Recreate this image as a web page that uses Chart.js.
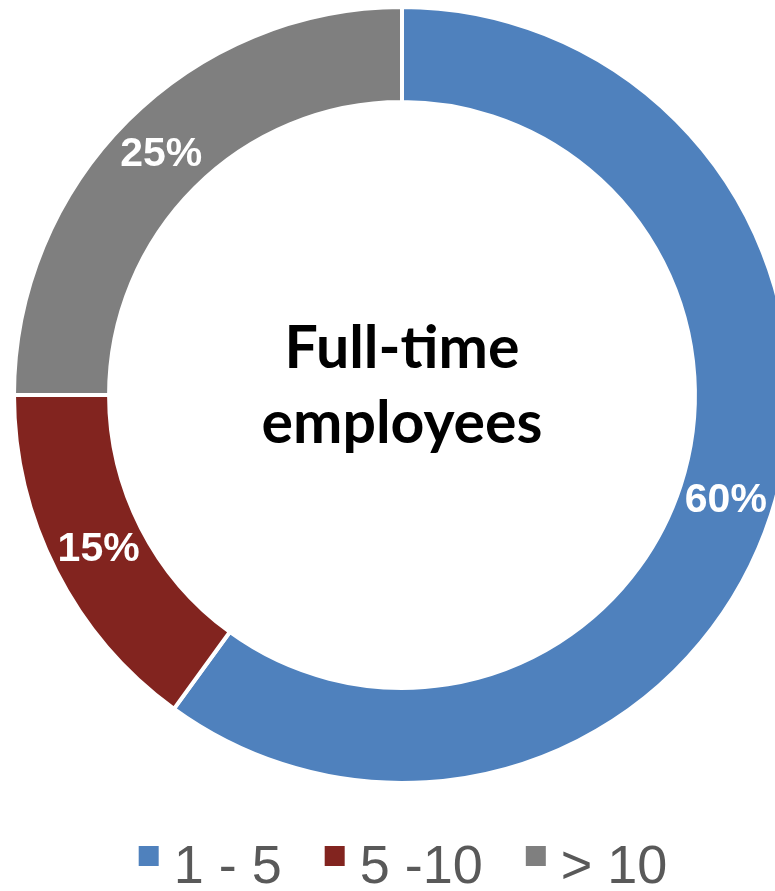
<!DOCTYPE html>
<html>
<head>
<meta charset="utf-8">
<script src="https://cdn.jsdelivr.net/npm/chart.js@4/dist/chart.umd.min.js"></script>
<style>
  html, body { margin: 0; padding: 0; background: #fff; overflow: hidden; }
  #wrap { position: absolute; left: 0; top: -10px; width: 804px; height: 915px; }
</style>
</head>
<body>
<div id="wrap"><canvas id="donut" width="804" height="915"></canvas></div>
<script>
const labels = ["1 - 5", "5 -10", "> 10"];
const shares = [60, 15, 25];
const colors = ["#4F81BD", "#82241F", "#7F7F7F"];
const centerLines = ["Full-time", "employees"];

// legend swatch sits high next to the text, like the office chart
function swatch(color) {
  const c = document.createElement("canvas");
  c.width = 44;
  c.height = 44;
  const g = c.getContext("2d");
  g.fillStyle = color;
  g.fillRect(19, 0, 20, 20);
  return c;
}
const swatches = colors.map(swatch);

const sliceLabels = {
  id: "sliceLabels",
  afterDatasetsDraw(chart) {
    const ctx = chart.ctx;
    const meta = chart.getDatasetMeta(0);
    ctx.save();
    ctx.font = "bold 41px 'Liberation Sans', Arial, sans-serif";
    ctx.fillStyle = "#fff";
    ctx.textAlign = "center";
    ctx.textBaseline = "middle";
    meta.data.forEach((arc, i) => {
      const p = arc.getCenterPoint();
      ctx.fillText(shares[i] + "%", p.x, p.y);
    });
    ctx.restore();
  }
};

const centerText = {
  id: "centerText",
  afterDraw(chart) {
    const ctx = chart.ctx;
    const arc = chart.getDatasetMeta(0).data[0];
    ctx.save();
    ctx.font = "bold 59px Lato, sans-serif";
    ctx.fillStyle = "#000";
    ctx.textAlign = "center";
    ctx.textBaseline = "alphabetic";
    ctx.fillText(centerLines[0], arc.x, arc.y - 27);
    ctx.fillText(centerLines[1], arc.x, arc.y + 48);
    ctx.restore();
  }
};

new Chart(document.getElementById("donut").getContext("2d"), {
  type: "doughnut",
  data: {
    labels,
    datasets: [{
      data: shares,
      backgroundColor: colors,
      borderColor: "#fff",
      borderWidth: 4
    }]
  },
  options: {
    responsive: false,
    animation: false,
    radius: 388,
    cutout: "75.5%",
    layout: { padding: 0 },
    plugins: {
      tooltip: { enabled: false },
      legend: {
        position: "bottom",
        labels: {
          usePointStyle: true,
          boxWidth: 10,
          boxHeight: 20,
          padding: 41,
          color: "#595959",
          font: { family: "'Liberation Sans', Arial, sans-serif", size: 54 },
          generateLabels(chart) {
            const items = Chart.overrides.doughnut.plugins.legend.labels.generateLabels(chart);
            return items.map((it, i) => Object.assign(it, { pointStyle: swatches[i], lineWidth: 0 }));
          }
        }
      }
    }
  },
  plugins: [sliceLabels, centerText]
});
</script>
</body>
</html>
